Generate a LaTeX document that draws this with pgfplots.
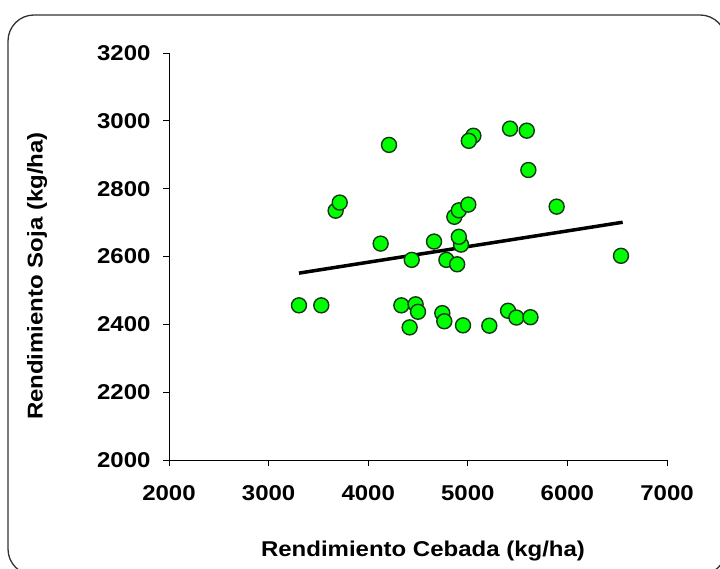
\documentclass[border=0pt]{standalone}
\usepackage{fontspec}
\setmainfont{Liberation Sans}[FakeStretch=1.12]
\usepackage{pgfplots}
\pgfplotsset{compat=1.18}

\definecolor{dotfill}{RGB}{0,255,0}
\definecolor{dotedge}{RGB}{20,55,20}
\definecolor{framec}{RGB}{50,50,50}

\begin{document}
\begin{tikzpicture}[x=1bp,y=1bp]
\useasboundingbox (0,0) rectangle (720,569);
% outer chart frame, runs off the right and bottom edges
\begin{scope}
\clip (0,0) rectangle (720,569);
\draw[framec, line width=1.3bp, rounded corners=26bp] (8,-6) rectangle (726,554);
\end{scope}
\begin{axis}[
    at={(169bp,109bp)}, anchor=south west,
    scale only axis,
    width=498bp, height=407bp,
    xmin=2000, xmax=7000,
    ymin=2000, ymax=3200,
    xtick={2000,3000,...,7000},
    ytick={2000,2200,...,3200},
    axis x line*=bottom,
    axis y line*=left,
    axis line style={black, line width=0.8bp, -},
    tick style={black, line width=0.8bp},
    tick align=outside,
    major tick length=6bp,
    font=\fontsize{21.5}{25}\selectfont\bfseries,
    /pgf/number format/assume math mode=true,
    /pgf/number format/1000 sep={},
    xticklabel style={yshift=-16bp},
    yticklabel style={xshift=-9bp},
    xlabel={Rendimiento Cebada (kg/ha)},
    ylabel={Rendimiento Soja (kg/ha)},
    every axis x label/.style={at={(axis description cs:0.51,-0.2236)}, anchor=center},
    every axis y label/.style={at={(axis description cs:-0.265,0.452)}, anchor=center, rotate=90},
    clip=false,
]
\addplot[only marks, mark=*, mark size=7.5bp,
    mark options={fill=dotfill, draw=dotedge, line width=1.4bp}]
coordinates {
(3305,2456) (3529,2456) (3673,2735) (3714,2759) (4125,2638) (4209,2929)
(4333,2456) (4416,2391) (4437,2590) (4476,2459) (4500,2437) (4661,2644)
(4744,2433) (4764,2409) (4785,2590) (4865,2717) (4893,2577) (4910,2736)
(4932,2635) (4910,2658) (4952,2397) (5005,2753) (5056,2956) (5010,2941)
(5216,2396) (5404,2440) (5424,2977) (5488,2420) (5592,2971) (5608,2855)
(5629,2421) (5892,2747) (6538,2602)
};
\addplot[black, line width=3.5bp] coordinates {(3305,2551) (6555,2701)};
\end{axis}
\end{tikzpicture}
\end{document}
